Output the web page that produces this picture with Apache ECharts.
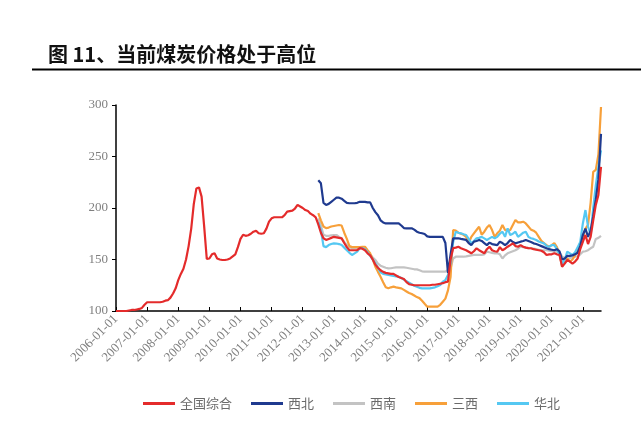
<!DOCTYPE html>
<html>
<head>
<meta charset="utf-8">
<script src="https://cdn.jsdelivr.net/npm/echarts@6/dist/echarts.min.js"></script>
<style>html,body{margin:0;padding:0;background:#fff}#c{width:641px;height:430px}</style>
</head>
<body>
<div id="c"></div>
<script>
// Monthly categories 2006-01 .. 2021-08
const startYear = 2006, endYear = 2021, endMonth = 8;
const months = [];
for (let y = startYear; y <= endYear; y++) {
  for (let m = 1; m <= 12; m++) {
    if (y === endYear && m > endMonth) break;
    months.push(y + '-' + String(m).padStart(2, '0') + '-01');
  }
}
const regionStart = '2012-07-01';

// 全国综合 (2006-01 .. 2021-08)
const national = [
  100,100,100,100,100,100.5,101,101,101.5,102,103,106,
  108.5,108.5,108.5,108.5,108.5,108.5,109,110,110.5,113,117,122,
  130,136,141,150,163,180,204,219,220,211,182,150.5,
  151,155,156,151,150,149.5,149.5,150,151,153,155,162,
  170,174,173,173.5,175,177,178,175.5,175,175.5,180,186.7,
  190,191,191,191,191,193,196.5,197,197.5,199.5,203,201.5,
  200,198,197,194.5,193,191,184,176,170.6,169,170,171,
  172,171.5,171,170.5,166,162,159,159,159,159,161,160.5,
  159,156,154,150,145,142,139.5,138,137,136.5,136,136,
  134.5,133,132,131,128,126,125.5,125,125,125,125,125,
  125,125,125.5,125.5,126,126.5,127,128,128.5,150,161,161.5,
  162.4,161,160,159,157.5,156,158,160.9,159,157.5,156,160,
  162.4,159,158,157.6,162,159,160.5,162.4,164,165.7,163,162.4,
  164,162.4,161.5,161,160.9,160,159.5,159,158.5,157,154.4,155,
  155,156,155,154.4,143,146,149.5,148,146,148,151,160,
  167,173.8,165,172,188,203,212.6,240
];
// 西北 (2012-07 .. 2021-08)
const northwest = [
  227,224,205,203,204,206,
  208,210,210,209,207,205,204.6,204.6,204.6,205,206,206,
  206,205.5,205.5,200,196,193,188,186,185,185,185,185,
  185,185,183,180.5,180.3,180.3,180.3,179,177,176,175.5,174.8,
  172.5,172,172,172,172,172,172,166,137,155,170.6,170.6,
  170.6,170,169.5,169,166,164,167.3,168,169,168,166,164,
  166.4,165,164.5,164,167.3,166,164,166,169,167,165.7,166.5,
  167.3,168,169,168,167,165.7,165,164,163,162,160.9,160,
  159.5,159,160,158,150,151,153.5,153.5,154,155,156.6,163,
  173.8,180,172,178,192,208,228,272
];
// 西南
const southwest = [
  190,183,174,173,173,173.5,
  173.8,173.8,172,170.6,167,164,162,161,161,161,161.5,161.5,
  160,157,155,152,149.5,146,144,143,142,141.4,141.5,142,
  142.4,142.4,142.4,142.4,142,141.5,141,140.5,140.4,139.5,138.5,138.2,
  138.2,138.2,138.2,138.2,138.2,138.2,138.2,138.2,140,141.4,151,152.7,
  152.7,152.7,152.7,153,153.5,154,154.4,154.4,154.4,154.4,155,157.6,
  157,156.5,156,156,155,151,154,156,157,158,159,160.5,
  162.4,162,161.5,161,160.9,160.5,160,159.5,159,159,159,158.5,
  158,157.8,157.6,157,153,151,151,151.5,152,152.7,153,155,
  157.6,158,159,160.9,162.4,170,171,173
];
// 三西
const sanxi = [
  195,188,182,180.5,181,182,
  182.5,183,183.5,183,176,170,163,162,162,162,162,162.4,
  162.4,159,156,150,143,138,133.3,128,123,122,123,123.6,
  123,122.5,122,120.5,119,117.5,116.5,115,113.5,112.5,110,107,
  104.2,104.2,104.2,104.2,104.2,106,109,112,120,133,178.6,178,
  176,175,174,172,166,172,175.4,178.6,181.8,174,177,181,
  183.5,178.6,172,175.4,178,183.5,178.6,178,178.6,183.5,188.3,186,
  186,186.7,185,182,179,178,176,172,168,166,164,162.4,
  164,166,162,156,143,150,151,148,150,154,160,166,
  172,180,183.5,205,235,237,252,298
];
// 华北
const northChina = [
  186,178.6,163,162,164,165,
  165.7,165.5,165,164,161.5,159,156.5,154.4,156,157.6,161,161,
  160,157,153.5,150,146.3,142,137.5,136,135.5,135,134.5,134,
  133.5,133.3,132,130.5,129,127.5,126,124.5,123.6,122.5,122,122,
  122,122,122.5,123,124,125.2,128.4,130,135,146.3,167,177,
  176,175.4,174.5,173.8,170,165.7,168,170.6,171,172,170.5,169,
  170.5,172,170.6,172,175,177,172,180.3,173.8,175,177,172,
  174,176,177,172,170.6,170,169,167.5,166.5,165.7,163,162.4,
  164,164,160,155,145,150,157.6,156,154.4,157,162,167,
  185,198,182,174,200,222,240,256
];
const yTicks = { min: 100, max: 300, interval: 50 };

const regionMonths = months.slice(months.indexOf(regionStart));
const pair = arr => regionMonths.map((d, i) => [d, arr[i]]);

const chart = echarts.init(document.getElementById('c'), null, { renderer: 'canvas' });
const mk = (name, data, color, z) => ({
  name, type: 'line', data, symbol: 'none', z,
  lineStyle: { color, width: 2.2 }, itemStyle: { color }
});
chart.setOption({
  animation: false,
  title: {
    text: '图 11、当前煤炭价格处于高位', left: 43, top: 39,
    textStyle: { fontSize: 20, fontWeight: 'bold', color: '#111', fontFamily: 'Noto Sans CJK SC' }
  },
  graphic: [{ type: 'line', shape: { x1: 32, y1: 69.5, x2: 641, y2: 69.5 }, style: { stroke: '#000', lineWidth: 2 } }],
  legend: {
    left: 138, top: 392, itemWidth: 32, itemHeight: 3, itemGap: 19, icon: 'rect',
    textStyle: { color: '#6a6a6a', fontSize: 13, fontFamily: 'Noto Sans CJK SC' },
    data: ['全国综合', '西北', '西南', '三西', '华北']
  },
  grid: { left: 116, right: 40, top: 105, bottom: 119 },
  xAxis: {
    type: 'category', data: months, boundaryGap: false,
    axisLine: { lineStyle: { color: '#000', width: 1.5 } },
    axisTick: { inside: true, length: 4, interval: i => i % 12 === 0, lineStyle: { color: '#000' } },
    axisLabel: {
      interval: i => i % 12 === 0, rotate: 45, color: '#7f7f7f', fontSize: 13,
      fontFamily: 'Liberation Serif', margin: 6
    },
    splitLine: { show: false }
  },
  yAxis: {
    type: 'value', min: yTicks.min, max: yTicks.max, interval: yTicks.interval,
    axisLine: { show: true, lineStyle: { color: '#000', width: 1.5 } },
    axisTick: { show: true, length: 4, lineStyle: { color: '#000' } },
    axisLabel: { color: '#7f7f7f', fontSize: 13, fontFamily: 'Liberation Serif', margin: 8 },
    splitLine: { show: false }
  },
  series: [
    mk('全国综合', national, '#e42b2b', 5),
    mk('西北', pair(northwest), '#1f3a8f', 4),
    mk('西南', pair(southwest), '#c3c3c3', 1),
    mk('三西', pair(sanxi), '#f7a03a', 2),
    mk('华北', pair(northChina), '#55c8f2', 3)
  ]
});
</script>
</body>
</html>
